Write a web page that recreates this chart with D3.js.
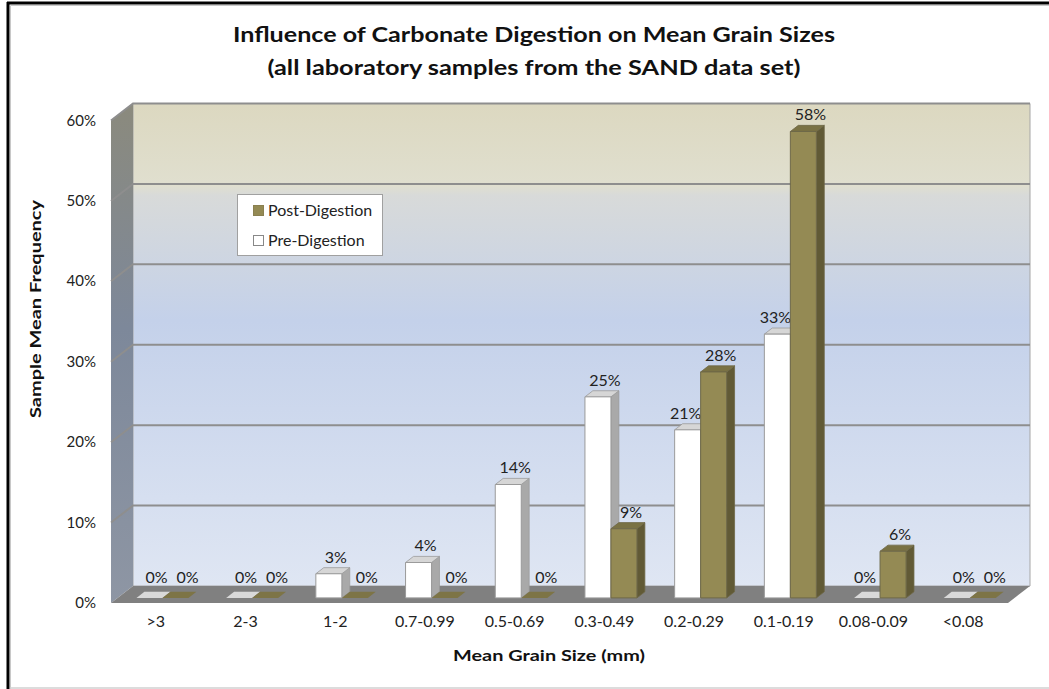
<!DOCTYPE html>
<html lang="en">
<head>
<meta charset="UTF-8">
<title>Influence of Carbonate Digestion on Mean Grain Sizes</title>
<script src="https://d3js.org/d3.v7.min.js"></script>
<style>
  body { margin: 0; background: #fff; }
  svg { display: block; font-family: Lato, "Open Sans", sans-serif; }
</style>
</head>
<body>
<svg width="1049" height="689"></svg>
<script>
// data
const categories = [">3", "2-3", "1-2", "0.7-0.99", "0.5-0.69", "0.3-0.49", "0.2-0.29", "0.1-0.19", "0.08-0.09", "<0.08"];
const preDigestion  = [0, 0, 0.03, 0.044, 0.141, 0.25, 0.209, 0.328, 0, 0];
const postDigestion = [0, 0, 0, 0, 0, 0.086, 0.281, 0.58, 0.058, 0];
const seriesNames = ["Post-Digestion", "Pre-Digestion"];
const yTicks = [0, 0.1, 0.2, 0.3, 0.4, 0.5, 0.6];

const svg = d3.select("svg");

// 3d depth offsets of the plot box
const DX = 22, DY = -17;
const x = d3.scaleBand().domain(categories).range([111, 1008]);
const y = d3.scaleLinear().domain([0, 0.6]).range([603, 120.5]);
const pct = d3.format(".0%");

// project front-plane point with depth t (0 = front, 1 = back wall)
const P = (px, v, t) => [px + t * DX, y(v) + t * DY];
const poly = pts => "M" + pts.map(p => p.join(",")).join("L") + "Z";

const defs = svg.append("defs");
const wallGrad = defs.append("linearGradient").attr("id", "wall").attr("x1", 0).attr("y1", 0).attr("x2", 0).attr("y2", 1);
[[0, "#dcd8c0"], [0.17, "#e0dfcf"], [0.19, "#d8dad9"], [0.45, "#c4d1ea"], [1, "#dfe6f3"]]
  .forEach(s => wallGrad.append("stop").attr("offset", s[0]).attr("stop-color", s[1]));
const sideGrad = defs.append("linearGradient").attr("id", "side").attr("x1", 0).attr("y1", 0).attr("x2", 0).attr("y2", 1);
[[0, "#8b8a7d"], [0.45, "#7d889a"], [1, "#8e96a4"]]
  .forEach(s => sideGrad.append("stop").attr("offset", s[0]).attr("stop-color", s[1]));

// outer frame: black top and left edges, light inner line, grey bottom
svg.append("line").attr("x1", 7).attr("x2", 1049).attr("y1", 3).attr("y2", 3)
  .attr("stroke", "#000").attr("stroke-width", 3);
svg.append("line").attr("x1", 8).attr("x2", 8).attr("y1", 2).attr("y2", 689)
  .attr("stroke", "#000").attr("stroke-width", 3);
svg.append("line").attr("x1", 10.5).attr("x2", 1049).attr("y1", 5.5).attr("y2", 5.5)
  .attr("stroke", "#c8c8c8").attr("stroke-width", 1);
svg.append("line").attr("x1", 10.5).attr("x2", 10.5).attr("y1", 5.5).attr("y2", 689)
  .attr("stroke", "#c8c8c8").attr("stroke-width", 1);
svg.append("line").attr("x1", 10).attr("x2", 1049).attr("y1", 688).attr("y2", 688)
  .attr("stroke", "#d0d0d0").attr("stroke-width", 1.5);

const x0 = x.range()[0], x1 = x.range()[1];
const vMax = y.domain()[1];

// back wall
svg.append("path").attr("d", poly([P(x0, 0, 1), P(x0, vMax, 1), P(x1, vMax, 1), P(x1, 0, 1)]))
  .attr("fill", "url(#wall)").attr("stroke", "#a6a6a6").attr("stroke-width", 1);
// left side wall
svg.append("path").attr("d", poly([P(x0, 0, 0), P(x0, vMax, 0), P(x0, vMax, 1), P(x0, 0, 1)]))
  .attr("fill", "url(#side)");
// floor
svg.append("path").attr("d", poly([P(x0, 0, 0), P(x0, 0, 1), P(x1, 0, 1), P(x1, 0, 0)]))
  .attr("fill", "#808080");

// gridlines on walls
yTicks.filter(v => v > 0).forEach(v => {
  svg.append("path")
    .attr("d", "M" + P(x0, v, 0).join(",") + "L" + P(x0, v, 1).join(",") + "L" + P(x1, v, 1).join(","))
    .attr("fill", "none").attr("stroke", "#8e8e8e").attr("stroke-width", 2);
});

// y tick labels
svg.append("g").selectAll("text").data(yTicks).join("text")
  .attr("x", 96).attr("y", d => y(d) + 5)
  .attr("text-anchor", "end").attr("font-size", 15).attr("fill", "#222")
  .text(pct);

// bars
const bw = 26, T0 = 0.3, T1 = 0.66;
const styles = {
  pre:  { front: "#ffffff", top: "#d6d6d6", side: "#a9a9a9", stroke: "#9a9a9a", flat: "#d9d9d9" },
  post: { front: "#948a54", top: "#7a7244", side: "#615a36", stroke: "#6e6848", flat: "#7d7446" }
};
const bars = [];
categories.forEach((c, i) => {
  const cx = x(c) + x.bandwidth() / 2;
  // pre labels slide left when the post bar next to them is taller
  const preShift = postDigestion[i] > preDigestion[i] ? -2 : 7;
  bars.push({ key: "pre",  left: cx - bw, v: preDigestion[i], shift: preShift });
  bars.push({ key: "post", left: cx,      v: postDigestion[i], shift: postDigestion[i] > 0 ? 7 : 12 });
});

const gBars = svg.append("g");
bars.forEach(b => {
  const s = styles[b.key];
  const l = b.left, r = b.left + bw;
  const g = gBars.append("g");
  if (b.v <= 0.001) {
    g.append("path").attr("d", poly([P(l, 0, T0), P(r, 0, T0), P(r, 0, T1), P(l, 0, T1)]))
      .attr("fill", s.flat);
  } else {
    g.append("path").attr("d", poly([P(r, 0, T0), P(r, b.v, T0), P(r, b.v, T1), P(r, 0, T1)]))
      .attr("fill", s.side).attr("stroke", s.stroke).attr("stroke-width", 0.8);
    g.append("path").attr("d", poly([P(l, b.v, T0), P(r, b.v, T0), P(r, b.v, T1), P(l, b.v, T1)]))
      .attr("fill", s.top).attr("stroke", s.stroke).attr("stroke-width", 0.8);
    g.append("path").attr("d", poly([P(l, 0, T0), P(l, b.v, T0), P(r, b.v, T0), P(r, 0, T0)]))
      .attr("fill", s.front).attr("stroke", s.stroke).attr("stroke-width", 1);
  }
  const top = P(l, b.v, T1)[1];
  g.append("text")
    .attr("x", P(l + bw / 2, 0, T0)[0] + b.shift)
    .attr("y", b.v <= 0.001 ? top - 9 : top - 5)
    .attr("text-anchor", "middle").attr("font-size", 16).attr("fill", "#222")
    .text(pct(b.v));
});

// x category labels
svg.append("g").selectAll("text").data(categories).join("text")
  .attr("x", d => x(d) + x.bandwidth() / 2)
  .attr("y", 627)
  .attr("text-anchor", "middle").attr("font-size", 16).attr("fill", "#222")
  .text(d => d);

// titles
svg.append("text").attr("x", 534).attr("y", 42).attr("text-anchor", "middle")
  .attr("font-size", 21).attr("font-weight", "bold").attr("fill", "#111")
  .attr("textLength", 602).attr("lengthAdjust", "spacingAndGlyphs")
  .text("Influence of Carbonate Digestion on Mean Grain Sizes");
svg.append("text").attr("x", 534).attr("y", 75).attr("text-anchor", "middle")
  .attr("font-size", 21).attr("font-weight", "bold").attr("fill", "#111")
  .attr("textLength", 533).attr("lengthAdjust", "spacingAndGlyphs")
  .text("(all laboratory samples from the SAND data set)");
svg.append("text").attr("x", 549).attr("y", 661).attr("text-anchor", "middle")
  .attr("font-size", 16).attr("font-weight", "bold").attr("fill", "#111")
  .attr("textLength", 192).attr("lengthAdjust", "spacingAndGlyphs")
  .text("Mean Grain Size (mm)");
svg.append("text").attr("transform", "translate(41,309) rotate(-90)").attr("text-anchor", "middle")
  .attr("font-size", 16).attr("font-weight", "bold").attr("fill", "#111")
  .attr("textLength", 218).attr("lengthAdjust", "spacingAndGlyphs")
  .text("Sample Mean Frequency");

// legend
const legend = svg.append("g");
legend.append("rect").attr("x", 237.5).attr("y", 194.5).attr("width", 145).attr("height", 61)
  .attr("fill", "#fff").attr("stroke", "#a0a0a0");
const legendFill = { "Post-Digestion": styles.post.front, "Pre-Digestion": "#fff" };
seriesNames.forEach((name, i) => {
  const ly = 205 + i * 30;
  legend.append("rect").attr("x", 253.5).attr("y", ly + 0.5).attr("width", 10).attr("height", 10)
    .attr("fill", legendFill[name]).attr("stroke", i === 0 ? "#8a8050" : "#888");
  legend.append("text").attr("x", 268).attr("y", ly + 10.5).attr("font-size", 16).attr("fill", "#222")
    .text(name);
});
</script>
</body>
</html>
